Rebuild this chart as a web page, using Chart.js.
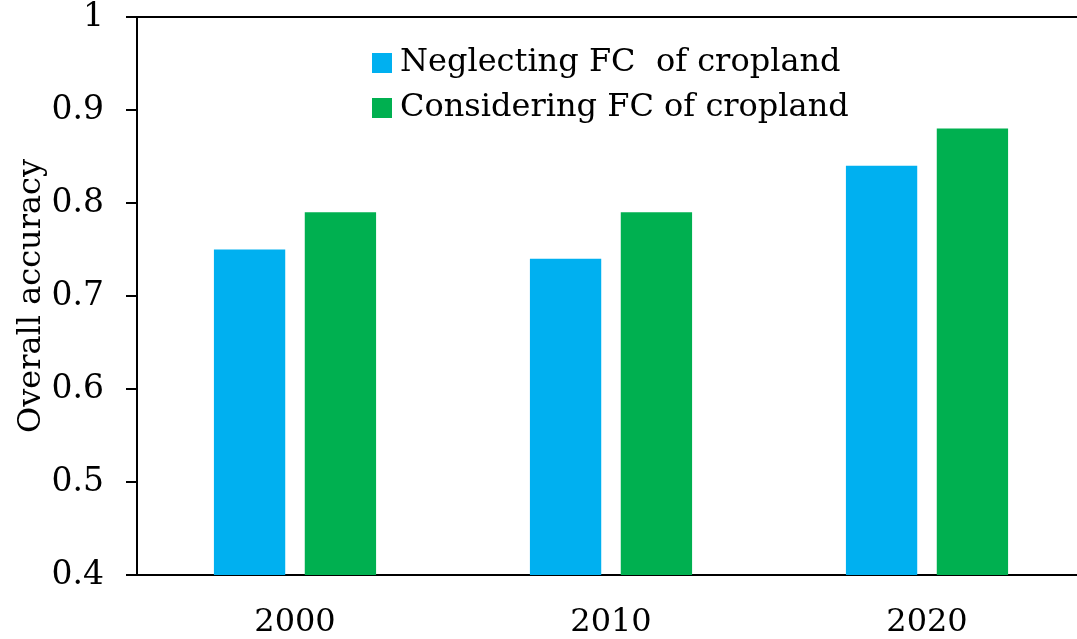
<!DOCTYPE html>
<html lang="en">
<head>
<meta charset="UTF-8">
<title>Overall accuracy</title>
<script src="https://cdn.jsdelivr.net/npm/chart.js"></script>
<style>
    html, body { margin: 0; padding: 0; background: #fff; overflow: hidden; }
    #wrap { width: 1085px; height: 639px; position: relative; }
</style>
</head>
<body>
<div id="wrap"><canvas id="accChart"></canvas></div>
<script>
var years = ['2000', '2010', '2020'];
var neglecting = [0.75, 0.74, 0.84];
var considering = [0.79, 0.79, 0.88];
var seriesNames = ['Neglecting FC  of cropland', 'Considering FC of cropland'];
var seriesColors = ['#00B0F0', '#00B050'];
var yTicks = [0.4, 0.5, 0.6, 0.7, 0.8, 0.9, 1];

var serif = "'DejaVu Serif', serif";

// legend sits inside the plot, top middle
var innerLegend = {
    id: 'innerLegend',
    afterDraw: function (chart) {
        var ctx = chart.ctx;
        var area = chart.chartArea;
        ctx.save();
        // top frame line
        ctx.strokeStyle = '#000';
        ctx.lineWidth = 2;
        ctx.beginPath();
        ctx.moveTo(area.left, area.top);
        ctx.lineTo(area.right, area.top);
        ctx.stroke();

        ctx.font = '32px ' + serif;
        ctx.textBaseline = 'middle';
        chart.data.datasets.forEach(function (ds, i) {
            var y = area.top + 46 + i * 45;
            ctx.fillStyle = ds.backgroundColor;
            ctx.fillRect(372, y - 10, 20, 20);
            ctx.fillStyle = '#000';
            ctx.fillText(ds.label, 400, y);
        });
        ctx.restore();
    }
};

new Chart(document.getElementById('accChart'), {
    type: 'bar',
    data: {
        labels: years,
        datasets: [
            { label: seriesNames[0], data: neglecting, backgroundColor: seriesColors[0] },
            { label: seriesNames[1], data: considering, backgroundColor: seriesColors[1] }
        ]
    },
    options: {
        responsive: true,
        maintainAspectRatio: false,
        animation: false,
        categoryPercentage: 0.575,
        barPercentage: 0.785,
        layout: { padding: { top: 17, right: 0, bottom: 0, left: 0 } },
        plugins: {
            legend: { display: false },
            tooltip: { enabled: false }
        },
        scales: {
            x: {
                grid: { display: true, drawOnChartArea: false, drawTicks: false },
                border: { color: '#000', width: 2 },
                ticks: {
                    color: '#000',
                    padding: 28,
                    font: { family: serif, size: 32 }
                },
                afterFit: function (scale) { scale.height = 64; }
            },
            y: {
                min: 0.4,
                max: 1,
                afterBuildTicks: function (scale) {
                    scale.ticks = yTicks.map(function (v) { return { value: v }; });
                },
                grid: { display: true, drawOnChartArea: false, drawTicks: true, tickLength: 11, color: '#000', lineWidth: 2 },
                border: { color: '#000', width: 2 },
                ticks: {
                    color: '#000',
                    padding: 22,
                    font: { family: serif, size: 33 },
                    callback: function (v) { return v === 1 ? '1' : v.toFixed(1); }
                },
                title: {
                    display: true,
                    text: 'Overall accuracy',
                    color: '#000',
                    font: { family: serif, size: 32 },
                    padding: { top: 12, bottom: 0 }
                },
                afterFit: function (scale) {
                    scale.width = 137;
                    scale.paddingTop = 0;
                    scale.paddingBottom = 0;
                }
            }
        }
    },
    plugins: [innerLegend]
});
</script>
</body>
</html>
